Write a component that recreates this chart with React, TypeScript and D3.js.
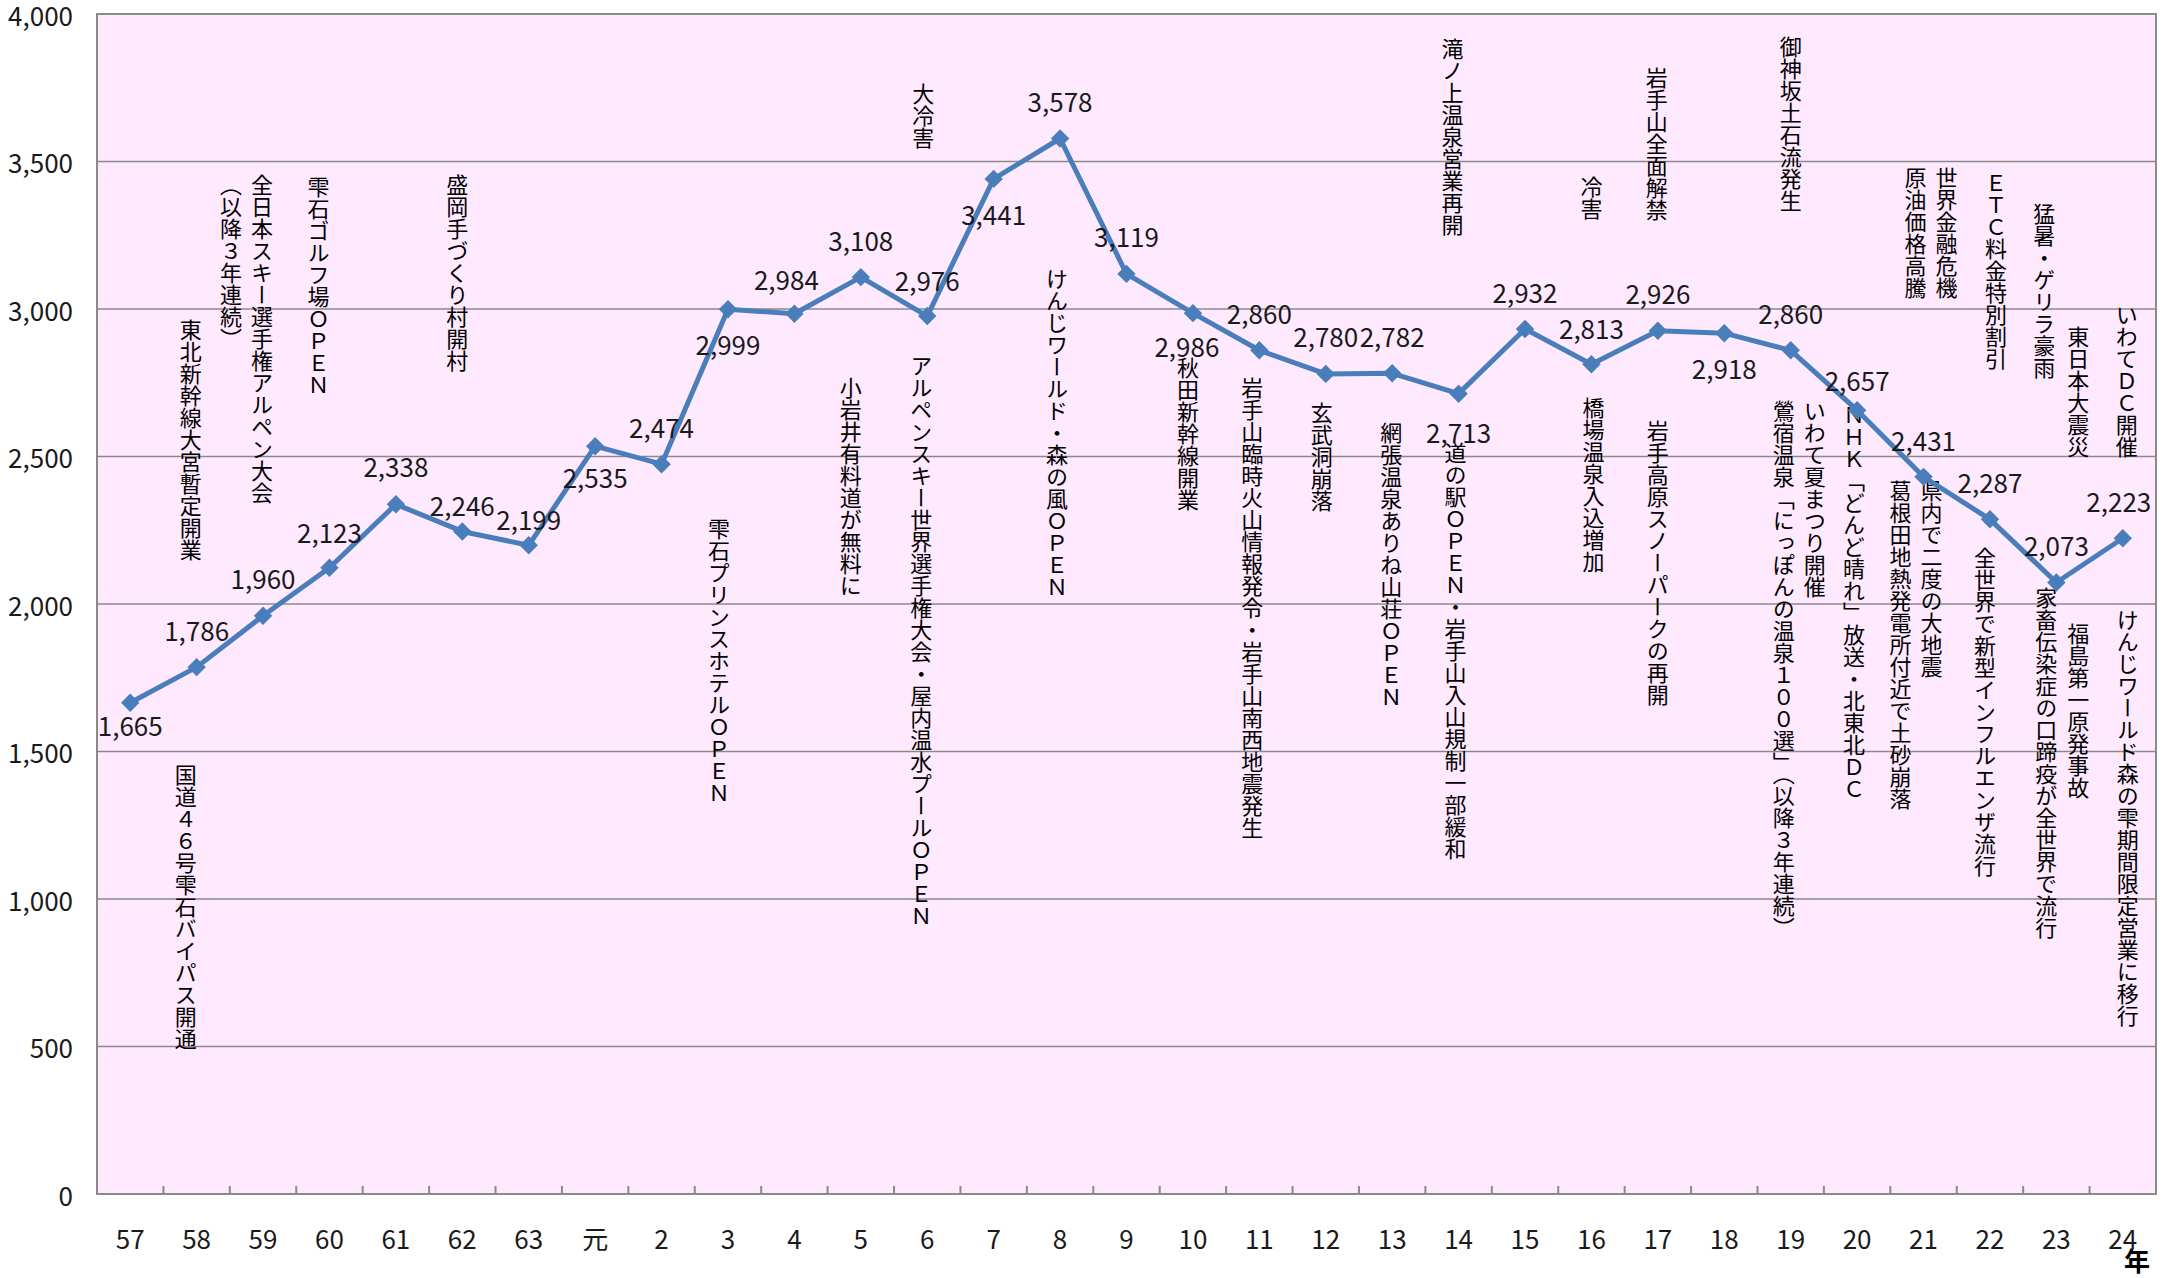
import * as d3 from "d3";

// 年（昭和57〜平成24）
const years = ["57", "58", "59", "60", "61", "62", "63", "元", "2", "3", "4", "5", "6", "7", "8", "9", "10",
  "11", "12", "13", "14", "15", "16", "17", "18", "19", "20", "21", "22", "23", "24"];

// 入込数（千人）
const visitors = [1665, 1786, 1960, 2123, 2338, 2246, 2199, 2535, 2474, 2999, 2984, 3108, 2976, 3441, 3578,
  3119, 2986, 2860, 2780, 2782, 2713, 2932, 2813, 2926, 2918, 2860, 2657, 2431, 2287, 2073, 2223];

const yTicks = [0, 500, 1000, 1500, 2000, 2500, 3000, 3500, 4000];

// 出来事（縦書き）：年, 列ごとのテキスト
const events: { year: string; lines: string[] }[] = [
  { year: "58", lines: ["東北新幹線大宮暫定開業"] },
  { year: "58", lines: ["国道４６号雫石バイパス開通"] },
  { year: "59", lines: ["全日本スキー選手権アルペン大会", "（以降３年連続）"] },
  { year: "60", lines: ["雫石ゴルフ場ＯＰＥＮ"] },
  { year: "62", lines: ["盛岡手づくり村開村"] },
  { year: "3", lines: ["雫石プリンスホテルＯＰＥＮ"] },
  { year: "5", lines: ["小岩井有料道が無料に"] },
  { year: "6", lines: ["大冷害"] },
  { year: "6", lines: ["アルペンスキー世界選手権大会・屋内温水プールＯＰＥＮ"] },
  { year: "8", lines: ["けんじワールド・森の風ＯＰＥＮ"] },
  { year: "10", lines: ["秋田新幹線開業"] },
  { year: "11", lines: ["岩手山臨時火山情報発令・岩手山南西地震発生"] },
  { year: "12", lines: ["玄武洞崩落"] },
  { year: "13", lines: ["網張温泉ありね山荘ＯＰＥＮ"] },
  { year: "14", lines: ["滝ノ上温泉営業再開"] },
  { year: "14", lines: ["道の駅ＯＰＥＮ・岩手山入山規制一部緩和"] },
  { year: "16", lines: ["冷害"] },
  { year: "16", lines: ["橋場温泉入込増加"] },
  { year: "17", lines: ["岩手山全面解禁"] },
  { year: "17", lines: ["岩手高原スノーパークの再開"] },
  { year: "19", lines: ["御神坂土石流発生"] },
  { year: "19", lines: ["いわて夏まつり開催", "鶯宿温泉「にっぽんの温泉１００選」（以降３年連続）"] },
  { year: "20", lines: ["ＮＨＫ「どんど晴れ」放送・北東北ＤＣ"] },
  { year: "21", lines: ["世界金融危機", "原油価格高騰"] },
  { year: "21", lines: ["県内で二度の大地震", "葛根田地熱発電所付近で土砂崩落"] },
  { year: "22", lines: ["ＥＴＣ料金特別割引"] },
  { year: "22", lines: ["全世界で新型インフルエンザ流行"] },
  { year: "23", lines: ["猛暑・ゲリラ豪雨"] },
  { year: "23", lines: ["東日本大震災"] },
  { year: "23", lines: ["家畜伝染症の口蹄疫が全世界で流行"] },
  { year: "23", lines: ["福島第一原発事故"] },
  { year: "24", lines: ["いわてＤＣ開催"] },
  { year: "24", lines: ["けんじワールド森の雫期間限定営業に移行"] },
];

// layout: [dx from category centre, top y] for each event
const eventLayout: [number, number][] = [
  [-6, 319], [-11, 764], [-1, 174], [-11, 176], [-5, 174], [-9, 518], [-10, 377], [-4, 83], [-6, 355],
  [-3, 268], [-5, 357], [-7, 377], [-4, 402], [-1, 422], [-6, 38], [-3, 442], [0, 176], [2, 397],
  [-1, 67], [0, 420], [0, 36], [24, 400], [-3, 404], [23, 167], [8, 480], [6, 172], [-5, 547],
  [-12, 203], [22, 326], [-10, 587], [22, 623], [4, 304], [5, 609],
];

// value label offsets [dx, dy] (centre of text relative to point)
const labelOffset: [number, number][] = [
  [0, 22], [0, -38], [0, -38], [0, -36], [0, -39], [0, -27], [0, -27], [0, 30], [0, -38], [0, 34],
  [-8, -35], [0, -38], [0, -37], [0, 35], [0, -38], [0, -38], [-6, 32], [0, -38], [0, -38], [0, -38],
  [0, 38], [0, -38], [0, -37], [0, -38], [0, 34], [0, -38], [0, -31], [0, -37], [0, -38], [0, -38], [-4, -38],
];

const W = 2170;
const H = 1278;
const M = { left: 97, right: 2156, top: 14, bottom: 1194 };
const FONT = "'Noto Sans CJK JP', 'Noto Sans', sans-serif";

export default function App() {
  const x = d3.scaleBand<string>().domain(years).range([M.left, M.right]);
  const y = d3.scaleLinear().domain([0, 4000]).range([M.bottom, M.top]);
  const cx = (k: string) => (x(k) ?? 0) + x.bandwidth() / 2;

  const line = d3
    .line<number>()
    .x((_, i) => cx(years[i]))
    .y((d) => y(d));

  const diamond = d3.symbol(d3.symbolSquare, 170)();
  const fmt = d3.format(",");

  return (
    <div style={{ position: "absolute", left: 0, top: 0 }}>
      <svg width={W} height={H} style={{ display: "block", background: "#fff", fontFamily: FONT }}>
        <rect x={M.left} y={M.top} width={M.right - M.left} height={M.bottom - M.top} fill="#FEE9FE" />
        {yTicks.map((t) => (
          <g key={t}>
            {t > 0 && (
              <line x1={M.left} x2={M.right} y1={y(t)} y2={y(t)} stroke="#8A8A8A" strokeWidth={1.5} />
            )}
            <text x={73} y={y(t)} textAnchor="end" dominantBaseline="central" fontSize={26} fill="#1a1a1a">
              {fmt(t)}
            </text>
          </g>
        ))}
        <rect
          x={M.left}
          y={M.top}
          width={M.right - M.left}
          height={M.bottom - M.top}
          fill="none"
          stroke="#8A8A8A"
          strokeWidth={2}
        />
        {years.slice(1).map((k) => (
          <line key={k} x1={x(k)} x2={x(k)} y1={M.bottom} y2={M.bottom - 8} stroke="#8A8A8A" strokeWidth={2} />
        ))}
        {years.map((k) => (
          <text key={k} x={cx(k)} y={1237} textAnchor="middle" dominantBaseline="central" fontSize={26} fill="#1a1a1a">
            {k}
          </text>
        ))}
        <text x={2137} y={1259} textAnchor="middle" dominantBaseline="central" fontSize={26} fontWeight="bold" fill="#000">
          年
        </text>

        {events.map((ev, i) => {
          const [dx, top] = eventLayout[i];
          return ev.lines.map((ln, j) => (
            <text
              key={`${i}-${j}`}
              x={cx(ev.year) + dx - j * 31}
              y={top}
              fontSize={22}
              fill="#000"
              style={{ writingMode: "vertical-rl", textOrientation: "upright" } as any}
            >
              {ln}
            </text>
          ));
        })}

        <path d={line(visitors) ?? ""} fill="none" stroke="#4A7EBB" strokeWidth={5} strokeLinejoin="round" />
        {visitors.map((v, i) => (
          <path
            key={i}
            d={diamond ?? ""}
            transform={`translate(${cx(years[i])},${y(v)}) rotate(45)`}
            fill="#4A7EBB"
          />
        ))}
        {visitors.map((v, i) => (
          <text
            key={i}
            x={cx(years[i]) + labelOffset[i][0]}
            y={y(v) + labelOffset[i][1]}
            textAnchor="middle"
            dominantBaseline="central"
            fontSize={26}
            fill="#1a1a1a"
          >
            {fmt(v)}
          </text>
        ))}
      </svg>
    </div>
  );
}
